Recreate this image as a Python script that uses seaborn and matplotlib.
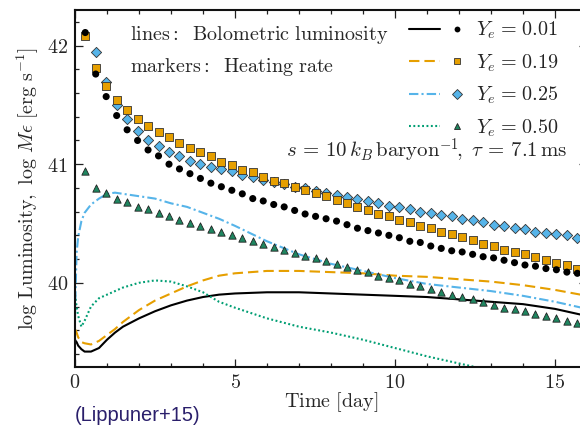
import numpy as np
import pandas as pd
import matplotlib
matplotlib.use("Agg")
import matplotlib.pyplot as plt
import seaborn as sns
from matplotlib.ticker import MultipleLocator, FuncFormatter
from matplotlib.legend_handler import HandlerTuple
from matplotlib.lines import Line2D

# ---------------- data ----------------
labels = ["0.01", "0.19", "0.25", "0.50"]

# heating-rate markers: time grid (days)
marker_t = np.round(0.32 + 0.3272 * np.arange(48), 3)

heat_001 = [42.11, 41.76, 41.57, 41.41, 41.29, 41.20, 41.12, 41.07, 41.00, 40.96,
            40.92, 40.88, 40.84, 40.81, 40.78, 40.75, 40.71, 40.69, 40.66, 40.64,
            40.61, 40.58, 40.56, 40.54, 40.52, 40.49, 40.46, 40.44, 40.42, 40.40,
            40.38, 40.35, 40.34, 40.31, 40.29, 40.27, 40.26, 40.24, 40.22, 40.21,
            40.19, 40.17, 40.15, 40.14, 40.12, 40.11, 40.09, 40.08]
heat_019 = [42.08, 41.81, 41.66, 41.54, 41.46, 41.38, 41.32, 41.27, 41.23, 41.18,
            41.14, 41.10, 41.07, 41.02, 40.99, 40.95, 40.93, 40.89, 40.86, 40.84,
            40.81, 40.78, 40.76, 40.73, 40.70, 40.67, 40.64, 40.61, 40.58, 40.56,
            40.53, 40.51, 40.48, 40.46, 40.43, 40.41, 40.39, 40.36, 40.33, 40.31,
            40.28, 40.26, 40.24, 40.22, 40.19, 40.17, 40.15, 40.12]
heat_025 = [np.nan, 41.95, 41.69, 41.50, 41.38, 41.28, 41.20, 41.15, 41.10, 41.07,
            41.03, 41.00, 40.98, 40.96, 40.94, 40.91, 40.89, 40.87, 40.85, 40.83,
            40.81, 40.80, 40.77, 40.76, 40.74, 40.72, 40.71, 40.69, 40.67, 40.65,
            40.64, 40.62, 40.60, 40.59, 40.57, 40.56, 40.54, 40.53, 40.51, 40.49,
            40.48, 40.46, 40.45, 40.43, 40.42, 40.41, 40.40, 40.38]
heat_050 = [40.94, 40.80, 40.76, 40.71, 40.68, 40.64, 40.62, 40.59, 40.56, 40.53,
            40.50, 40.48, 40.45, 40.43, 40.40, 40.38, 40.35, 40.33, 40.30, 40.28,
            40.25, 40.23, 40.21, 40.18, 40.16, 40.13, 40.11, 40.09, 40.06, 40.04,
            40.02, 39.99, 39.97, 39.95, 39.92, 39.90, 39.88, 39.86, 39.84, 39.81,
            39.79, 39.78, 39.76, 39.74, 39.72, 39.70, 39.68, 39.66]

# bolometric luminosity lines
line_t = [0, 0.02, 0.05, 0.1, 0.2, 0.3, 0.5, 0.75, 1.0, 1.25, 1.5, 2.0, 2.5, 3.0,
          3.5, 4.0, 4.5, 5.0, 6, 7, 8, 9, 10, 11, 12, 13, 14, 15, 16]
lum_001 = [39.52, 39.51, 39.50, 39.47, 39.44, 39.42, 39.42, 39.45, 39.52, 39.58,
           39.63, 39.70, 39.76, 39.81, 39.85, 39.88, 39.90, 39.91, 39.92, 39.92,
           39.91, 39.90, 39.89, 39.88, 39.86, 39.84, 39.82, 39.78, 39.72]
lum_019 = [39.59, 39.60, 39.58, 39.54, 39.50, 39.49, 39.48, 39.51, 39.56, 39.61,
           39.67, 39.77, 39.85, 39.91, 39.97, 40.02, 40.06, 40.08, 40.10, 40.10,
           40.09, 40.08, 40.06, 40.05, 40.03, 40.01, 39.98, 39.94, 39.89]
lum_025 = [39.70, 39.95, 40.25, 40.39, 40.52, 40.59, 40.66, 40.71, 40.75, 40.76,
           40.75, 40.73, 40.71, 40.67, 40.64, 40.59, 40.54, 40.48, 40.35, 40.24,
           40.16, 40.10, 40.04, 39.99, 39.96, 39.93, 39.89, 39.84, 39.78]
lum_050 = [39.90, 39.86, 39.80, 39.72, 39.63, 39.68, 39.80, 39.87, 39.90, 39.93,
           39.96, 40.00, 40.02, 40.01, 39.97, 39.92, 39.84, 39.79, 39.70, 39.63,
           39.58, 39.52, 39.45, 39.38, 39.32, 39.26, np.nan, np.nan, np.nan]

# ---------------- style ----------------
sns.set_theme(style="ticks")
plt.rcParams["mathtext.fontset"] = "cm"
plt.rcParams["font.family"] = ["DejaVu Serif"]

colors = ["#000000", "#E69F00", "#56B4E9", "#009E73"]
tri_color = "#1f8660"
lstyles = ["-", (0, (5, 2.4)), (0, (4.5, 1.5, 1, 1.5)), (0, (0.9, 1.2))]
lums = [lum_001, lum_019, lum_025, lum_050]
heats = [heat_001, heat_019, heat_025, heat_050]
mk = ["o", "s", "D", "^"]
msz = [26, 30, 27, 28]
mfc = ["#000000", "#E69F00", "#56B4E9", tri_color]
mec = ["none", "#333333", "#333333", "#222222"]
zo = [6, 5, 4, 3]

fig = plt.figure(figsize=(5.8, 4.3), dpi=100)
ax = fig.add_axes([75 / 580, 1 - 367 / 430, 512 / 580, 357 / 430])

line_handles = []
mark_handles = []
for i in range(4):
    df_l = pd.DataFrame({"t": line_t, "L": lums[i]}).dropna()
    sns.lineplot(data=df_l, x="t", y="L", ax=ax, color=colors[i],
                 linestyle=lstyles[i], linewidth=1.5, sort=False,
                 estimator=None, zorder=2)
    df_m = pd.DataFrame({"t": marker_t, "H": heats[i]}).dropna()
    sns.scatterplot(data=df_m, x="t", y="H", ax=ax, marker=mk[i], s=msz[i],
                    color=mfc[i], edgecolor=mec[i], linewidth=0.6, zorder=zo[i])
    line_handles.append(Line2D([], [], color=colors[i], linestyle=lstyles[i], linewidth=1.5))
    mark_handles.append(Line2D([], [], marker=mk[i], linestyle="none",
                               markersize=4.2 if i == 0 else 4.6,
                               markerfacecolor=mfc[i], markeredgecolor=mec[i],
                               markeredgewidth=0.6))

ax.set_xlim(0, 16)
ax.set_ylim(39.29, 42.3)
ax.xaxis.set_major_locator(MultipleLocator(5))
ax.xaxis.set_minor_locator(MultipleLocator(1))
ax.yaxis.set_major_locator(MultipleLocator(1))
ax.yaxis.set_minor_locator(MultipleLocator(0.2))
fmt = FuncFormatter(lambda v, p: r"$%d$" % round(v))
ax.xaxis.set_major_formatter(fmt)
ax.yaxis.set_major_formatter(fmt)
ax.tick_params(which="both", direction="in", top=True, right=True,
               labelsize=14.5, width=0.9, color="#222222")
ax.tick_params(which="major", length=6)
ax.tick_params(which="minor", length=3.2)
ax.tick_params(axis="x", pad=4)
ax.tick_params(axis="y", pad=5)
for s in ax.spines.values():
    s.set_linewidth(1.5)
    s.set_color("#111111")

ax.set_xlabel(r"$\mathrm{Time\ [day]}$", fontsize=14.5, labelpad=-1)
ax.set_ylabel(r"$\mathrm{log\ Luminosity,\ log}\ M\epsilon\ [\mathrm{erg\ s^{-1}}]$",
              fontsize=14.5, labelpad=4)

ax.text(0.107, 0.916, r"$\mathrm{lines{:}\;\ Bolometric\ luminosity}$",
        transform=ax.transAxes, fontsize=14.5, va="baseline", ha="left")
ax.text(0.107, 0.826, r"$\mathrm{markers{:}\;\ Heating\ rate}$",
        transform=ax.transAxes, fontsize=14.5, va="baseline", ha="left")
ax.text(0.961, 0.585,
        r"$s\,=\,10\,k_B\,\mathrm{baryon}^{-1}\!,\ \tau\,=\,7.1\,\mathrm{ms}$",
        transform=ax.transAxes, fontsize=15, va="baseline", ha="right")

handles = [(line_handles[i], mark_handles[i]) for i in range(4)]
leg_labels = [r"$Y_e\hspace{0.1}=\hspace{0.1}%s$" % l for l in labels]
ax.legend(handles, leg_labels, handler_map={tuple: HandlerTuple(ndivide=None, pad=0.1)},
          loc="upper right", bbox_to_anchor=(0.972, 1.012), frameon=False,
          fontsize=14.5, handlelength=3.1, handletextpad=0.2, labelspacing=0.55,
          borderaxespad=0.3)

fig.text(75 / 580, 1 - 421 / 430, "(Lippuner+15)", fontsize=14.5,
         family=["Liberation Sans", "DejaVu Sans"], color="#2a1f6b",
         ha="left", va="baseline")

fig.savefig("out.png", dpi=100)
